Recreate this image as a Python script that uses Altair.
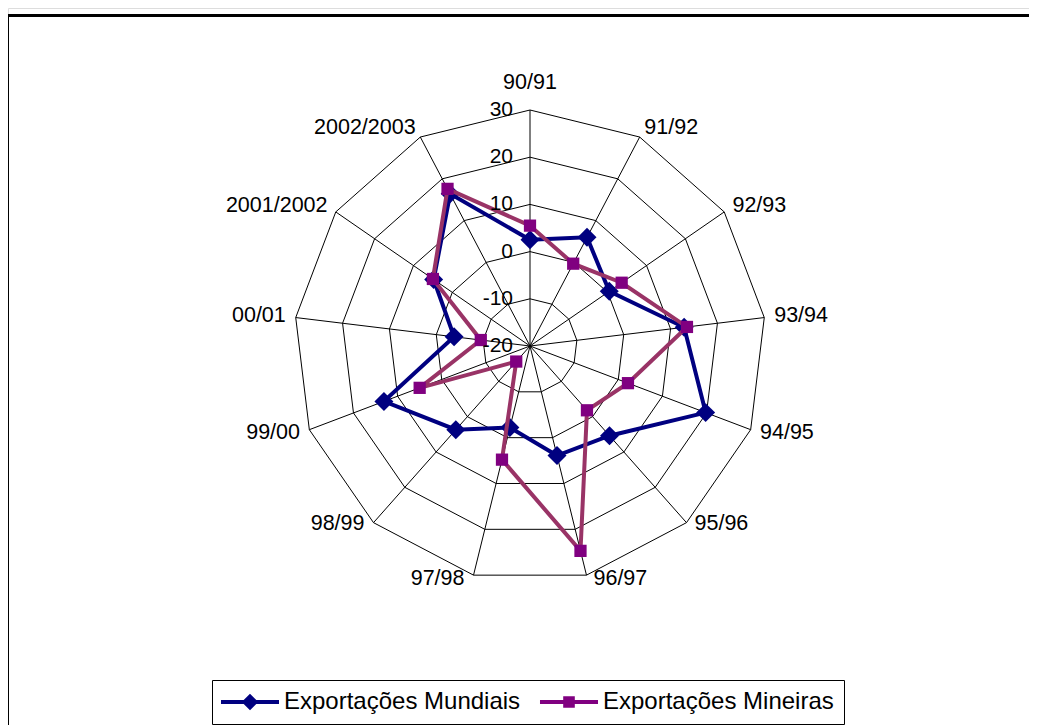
import altair as alt
import pandas as pd

# ---------------- data ----------------
categorias = ["90/91", "91/92", "92/93", "93/94", "94/95", "95/96", "96/97",
              "97/98", "98/99", "99/00", "00/01", "2001/2002", "2002/2003"]
mundiais = [2.5, 6.0, 0.4, 12.9, 19.8, 5.4, 3.9, -2.2, 3.7, 13.1, -3.8, 4.8, 16.4]
mineiras = [5.5, -0.3, 3.6, 13.5, 2.2, -1.8, 24.7, 4.8, -15.6, 5.0, -9.5, 5.0, 17.6]
series = ["Exportações Mundiais", "Exportações Mineiras"]
aneis = [-20, -10, 0, 10, 20, 30]

N = len(categorias)
R_MIN, R_MAX = aneis[0], aneis[-1]

# ---------------- layout ----------------
W, H = 1021, 717
CX, CY = 522, 338            # centre of the radar inside the plot area (px)
PX = 236 / (R_MAX - R_MIN)   # px per unit of value
xdom = [-CX / PX, (W - CX) / PX]
ydom = [-(H - CY) / PX, CY / PX]
FONT = "Liberation Sans"
NAVY = "#000080"
PURPLE = "#800080"
PLUM = "#993366"

# ---------------- tables ----------------
rows = []
for s, vals in zip(series, [mundiais, mineiras]):
    for i in range(N + 1):
        rows.append({"serie": s, "idx": i, "valor": vals[i % N]})
df_series = pd.DataFrame(rows)

df_grid = pd.DataFrame([{"anel": a, "idx": i, "valor": a}
                        for a in aneis[1:] for i in range(N + 1)])
df_spokes = pd.DataFrame({"idx": list(range(N)), "valor": [R_MAX] * N})
df_labels = pd.DataFrame({"idx": list(range(N)), "categoria": categorias, "valor": [R_MAX] * N})
df_ticks = pd.DataFrame({"idx": [0] * len(aneis), "valor": aneis,
                         "rotulo": [str(a) for a in aneis]})

xs = alt.Scale(domain=xdom, nice=False, zero=False)
ys = alt.Scale(domain=ydom, nice=False, zero=False)


def polar(chart, extra=0.0):
    return chart.transform_calculate(
        t=f"datum.idx * 2 * PI / {N}",
        r=f"datum.valor - ({R_MIN}) + {extra}",
    ).transform_calculate(
        px="datum.r * sin(datum.t)",
        py="datum.r * cos(datum.t)",
    )


X = alt.X("px:Q", scale=xs, axis=None)
Y = alt.Y("py:Q", scale=ys, axis=None)

# grid rings
grid = polar(alt.Chart(df_grid)).mark_line(color="black", strokeWidth=1).encode(
    x=X, y=Y, detail="anel:N", order="idx:Q")

# spokes
spokes = polar(alt.Chart(df_spokes)).transform_calculate(
    zero="0").mark_rule(color="black", strokeWidth=1).encode(
    x=alt.X("zero:Q", scale=xs, axis=None), y=alt.Y("zero:Q", scale=ys, axis=None),
    x2="px:Q", y2="py:Q")

# series
def series_layers(name, line_color, marker_color, shape, size):
    base = polar(alt.Chart(df_series)).transform_filter(alt.datum.serie == name)
    ln = base.mark_line(color=line_color, strokeWidth=4).encode(x=X, y=Y, order="idx:Q")
    pt = base.transform_filter(alt.datum.idx < N).mark_point(
        shape=shape, filled=True, color=marker_color, size=size, opacity=1).encode(x=X, y=Y)
    return [ln, pt]

lay_m = series_layers(series[0], NAVY, NAVY, "diamond", 360)
lay_n = series_layers(series[1], PLUM, PURPLE, "square", 150)

# category labels
LBL_OFF = 10 / PX
def cat_layer(idxs, extra, align, baseline, dx, dy):
    return polar(alt.Chart(df_labels), extra).transform_filter(
        alt.FieldOneOfPredicate(field="idx", oneOf=idxs)).mark_text(
        align=align, baseline=baseline, dx=dx, dy=dy, font=FONT, fontSize=21.5,
        color="black").encode(x=X, y=Y, text="categoria:N")

labels = [
    cat_layer([0], 0, "center", "alphabetic", 0, -21),
    cat_layer([1, 2, 3, 4], LBL_OFF, "left", "middle", 0, 0),
    cat_layer([9, 10, 11, 12], LBL_OFF, "right", "middle", 0, 0),
    cat_layer([5], 0, "left", "middle", 8, 1),
    cat_layer([8], 0, "right", "middle", -9, 1),
    cat_layer([6], 0, "left", "top", 7, -7),
    cat_layer([7], 0, "right", "top", -9, -7),
]

# radial tick labels
ticks = polar(alt.Chart(df_ticks)).mark_text(
    align="right", baseline="middle", dx=-17, font=FONT, fontSize=21, color="black").encode(
    x=X, y=Y, text="rotulo:N")

# frame (left and top edges of Excel chart area)
frame_top = alt.Chart(df_spokes).mark_rule(color="black", strokeWidth=2).encode(
    x=alt.value(-3), x2=alt.value(W + 5), y=alt.value(7.5))
frame_left = alt.Chart(df_spokes).mark_rule(color="black", strokeWidth=2).encode(
    x=alt.value(0), y=alt.value(7), y2=alt.value(H + 5))

# legend-only layer
path_m = "M-3,-0.21H3V0.21H-3Z M-0.86,0L0,-0.86L0.86,0L0,0.86Z"
path_n = "M-3,-0.21H3V0.21H-3Z M-0.6,-0.6H0.6V0.6H-0.6Z"
leg = alt.Legend(title=None, orient="none", legendX=204, legendY=672,
                 direction="horizontal", symbolSize=374, symbolStrokeWidth=0,
                 symbolOffset=16, labelOffset=22, labelFont=FONT, labelFontSize=24,
                 labelColor="black", strokeColor="black", fillColor="white",
                 padding=10, columnPadding=18, labelLimit=0)
legend_layer = polar(alt.Chart(df_series)).transform_filter("false").mark_point(
    filled=True, opacity=1).encode(
    x=X, y=Y,
    color=alt.Color("serie:N", scale=alt.Scale(domain=series, range=[NAVY, PURPLE]), legend=leg),
    shape=alt.Shape("serie:N", scale=alt.Scale(domain=series, range=[path_m, path_n]), legend=leg),
)

chart = alt.layer(
    frame_top, frame_left, grid, spokes, *lay_m, *lay_n, *labels, ticks, legend_layer
).properties(
    width=W, height=H,
    autosize=alt.AutoSizeParams(type="none"),
    padding=0,
).configure_view(stroke=None).configure(background="white")

chart.save("out.html", embed_options={"renderer": "svg", "actions": False})
